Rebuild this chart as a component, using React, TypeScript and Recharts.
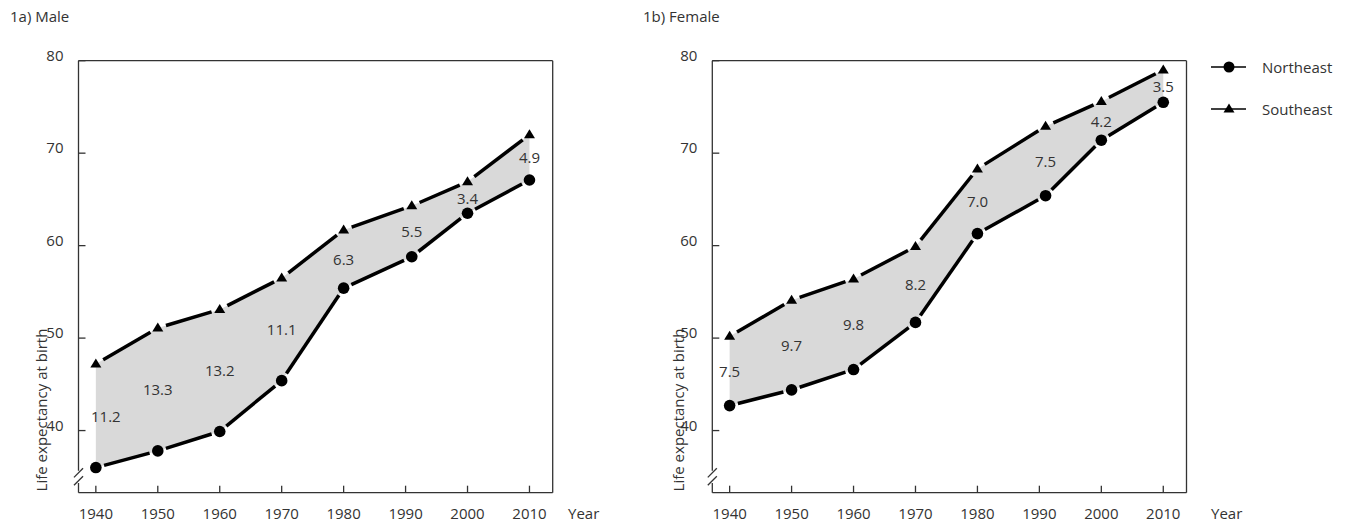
import { ComposedChart, Area, Line, XAxis, YAxis, ReferenceLine } from 'recharts';

const years = [1940, 1950, 1960, 1970, 1980, 1991, 2000, 2010];
const xTicks = [1940, 1950, 1960, 1970, 1980, 1990, 2000, 2010];
const yTicks = [40, 50, 60, 70, 80];

const maleNortheast = [36.0, 37.8, 39.9, 45.4, 55.4, 58.8, 63.5, 67.1];
const maleSoutheast = [47.2, 51.1, 53.1, 56.5, 61.7, 64.3, 66.9, 72.0];
const maleGap = ['11.2', '13.3', '13.2', '11.1', '6.3', '5.5', '3.4', '4.9'];

const femaleNortheast = [42.7, 44.4, 46.6, 51.7, 61.3, 65.4, 71.4, 75.5];
const femaleSoutheast = [50.2, 54.1, 56.4, 59.9, 68.3, 72.9, 75.6, 79.0];
const femaleGap = ['7.5', '9.7', '9.8', '8.2', '7.0', '7.5', '4.2', '3.5'];

const X_DOMAIN: [number, number] = [1937.2, 2013.75];
const Y_DOMAIN: [number, number] = [33.28, 80];
const BREAK_AT = 35;

const AXIS = '#333';
const TEXT = '#333';
const FONT = '"Open Sans", "Noto Sans", sans-serif';
const FS = 15;
const MARKER_GAP = 8.5;

const buildRows = (ne: number[], se: number[], gap: string[]) =>
  years.map((year, i) => ({
    year,
    ne: ne[i],
    se: se[i],
    range: [ne[i], se[i]],
    mid: (ne[i] + se[i]) / 2,
    gap: gap[i]
  }));

// draws the marker plus the segment to the next point, cut short on both ends
const makeDot = (shape: 'circle' | 'triangle') => (props: any) => {
  const { cx, cy, index, points } = props;
  const next = points && points[index + 1];
  let seg = null;
  if (next) {
    const dx = next.x - cx;
    const dy = next.y - cy;
    const len = Math.hypot(dx, dy) || 1;
    const ux = dx / len;
    const uy = dy / len;
    seg = (
      <line
        x1={cx + ux * MARKER_GAP}
        y1={cy + uy * MARKER_GAP}
        x2={next.x - ux * MARKER_GAP}
        y2={next.y - uy * MARKER_GAP}
        stroke="#000"
        strokeWidth={3.5}
      />
    );
  }
  return (
    <g key={`m-${shape}-${index}`}>
      {seg}
      {shape === 'circle' ? (
        <circle cx={cx} cy={cy} r={5.8} fill="#000" />
      ) : (
        <polygon points={`${cx},${cy - 5.5} ${cx + 5.5},${cy + 3.5} ${cx - 5.5},${cy + 3.5}`} fill="#000" />
      )}
    </g>
  );
};

const XTick = ({ x, y, payload }: any) => (
  <g>
    <line x1={x} y1={y} x2={x} y2={y - 7} stroke={AXIS} strokeWidth={1.3} />
    <text x={x} y={y + 26} textAnchor="middle" fontSize={FS} fill={TEXT} fontFamily={FONT}>
      {payload.value}
    </text>
  </g>
);

const YTick = ({ x, y, payload }: any) => (
  <g>
    <line x1={x} y1={y} x2={x + 7} y2={y} stroke={AXIS} strokeWidth={1.3} />
    <text x={x - 15} y={y} textAnchor="end" fontSize={FS} fill={TEXT} fontFamily={FONT}>
      {payload.value}
    </text>
  </g>
);

const Panel = ({
  rows,
  width,
  marginLeft,
  marginRight,
  firstLabelShift
}: {
  rows: any[];
  width: number;
  marginLeft: number;
  marginRight: number;
  firstLabelShift: number;
}) => {
  const x0 = X_DOMAIN[0];
  const labelDot = (p: any) => (
    <text
      key={`g-${p.index}`}
      x={p.cx + (p.index === 0 ? firstLabelShift : 0)}
      y={p.cy + 6}
      textAnchor="middle"
      fontSize={FS}
      fill={TEXT}
      fontFamily={FONT}
    >
      {p.payload.gap}
    </text>
  );
  const axisStyle = { stroke: AXIS, strokeWidth: 1.3, ifOverflow: 'visible' as const };
  return (
    <ComposedChart
      width={width}
      height={527}
      data={rows}
      margin={{ top: 60.7, right: marginRight, bottom: 4.3, left: marginLeft }}
    >
      <XAxis
        dataKey="year"
        type="number"
        domain={X_DOMAIN}
        ticks={xTicks}
        interval={0}
        height={30}
        axisLine={{ stroke: AXIS, strokeWidth: 1.3 }}
        tickLine={false}
        tickSize={0}
        tickMargin={0}
        tick={(p: any) => <XTick {...p} />}
      />
      <YAxis
        type="number"
        domain={Y_DOMAIN}
        ticks={yTicks}
        interval={0}
        width={60}
        axisLine={false}
        tickLine={false}
        tickSize={0}
        tickMargin={0}
        tick={(p: any) => <YTick {...p} />}
      />
      <Area
        type="linear"
        dataKey="range"
        fill="#d9d9d9"
        fillOpacity={1}
        stroke="none"
        activeDot={false}
        isAnimationActive={false}
      />
      <Line dataKey="ne" stroke="none" dot={makeDot('circle')} activeDot={false} isAnimationActive={false} />
      <Line dataKey="se" stroke="none" dot={makeDot('triangle')} activeDot={false} isAnimationActive={false} />
      <Line dataKey="mid" stroke="none" dot={labelDot} activeDot={false} isAnimationActive={false} />
      <ReferenceLine y={80} {...axisStyle} />
      <ReferenceLine x={X_DOMAIN[1]} {...axisStyle} />
      <ReferenceLine segment={[{ x: x0, y: 80 }, { x: x0, y: BREAK_AT + 0.65 }]} {...axisStyle} />
      <ReferenceLine segment={[{ x: x0, y: BREAK_AT - 0.67 }, { x: x0, y: Y_DOMAIN[0] }]} {...axisStyle} />
      <ReferenceLine
        segment={[
          { x: x0 - 0.73, y: BREAK_AT + 0.43 - 0.49 },
          { x: x0 + 0.73, y: BREAK_AT + 0.43 + 0.49 }
        ]}
        {...axisStyle}
      />
      <ReferenceLine
        segment={[
          { x: x0 - 0.73, y: BREAK_AT - 0.43 - 0.49 },
          { x: x0 + 0.73, y: BREAK_AT - 0.43 + 0.49 }
        ]}
        {...axisStyle}
      />
    </ComposedChart>
  );
};

const App = () => {
  const maleRows = buildRows(maleNortheast, maleSoutheast, maleGap);
  const femaleRows = buildRows(femaleNortheast, femaleSoutheast, femaleGap);
  const txt = { fontSize: FS, fill: TEXT, fontFamily: FONT };

  return (
    <div style={{ position: 'absolute', left: 0, top: 0, width: 1350, height: 527, background: '#fff', fontFamily: FONT }}>
      <div style={{ position: 'absolute', left: 0, top: 0 }}>
        <Panel rows={maleRows} width={640} marginLeft={18.5} marginRight={87.3} firstLabelShift={10} />
      </div>
      <div style={{ position: 'absolute', left: 640, top: 0 }}>
        <Panel rows={femaleRows} width={710} marginLeft={12.3} marginRight={163.5} firstLabelShift={0} />
      </div>

      <svg width={1350} height={527} style={{ position: 'absolute', left: 0, top: 0, pointerEvents: 'none' }}>
        <text x={10} y={21.5} {...txt}>1a) Male</text>
        <text x={643} y={21.5} {...txt}>1b) Female</text>
        <text x={47} y={410} textAnchor="middle" transform="rotate(-90 47 410)" {...txt}>
          Life expectancy at birth
        </text>
        <text x={684} y={410} textAnchor="middle" transform="rotate(-90 684 410)" {...txt}>
          Life expectancy at birth
        </text>
        <text x={568} y={518.5} {...txt}>Year</text>
        <text x={1211} y={518.5} {...txt}>Year</text>

        <line x1={1211} y1={67} x2={1246} y2={67} stroke="#000" strokeWidth={1.6} />
        <circle cx={1229} cy={67} r={5.5} fill="#000" />
        <text x={1262} y={72.5} {...txt}>Northeast</text>

        <line x1={1211} y1={109} x2={1246} y2={109} stroke="#000" strokeWidth={1.6} />
        <polygon points="1229,103.5 1234.5,112.5 1223.5,112.5" fill="#000" />
        <text x={1262} y={114.5} {...txt}>Southeast</text>
      </svg>
    </div>
  );
};

export default App;
